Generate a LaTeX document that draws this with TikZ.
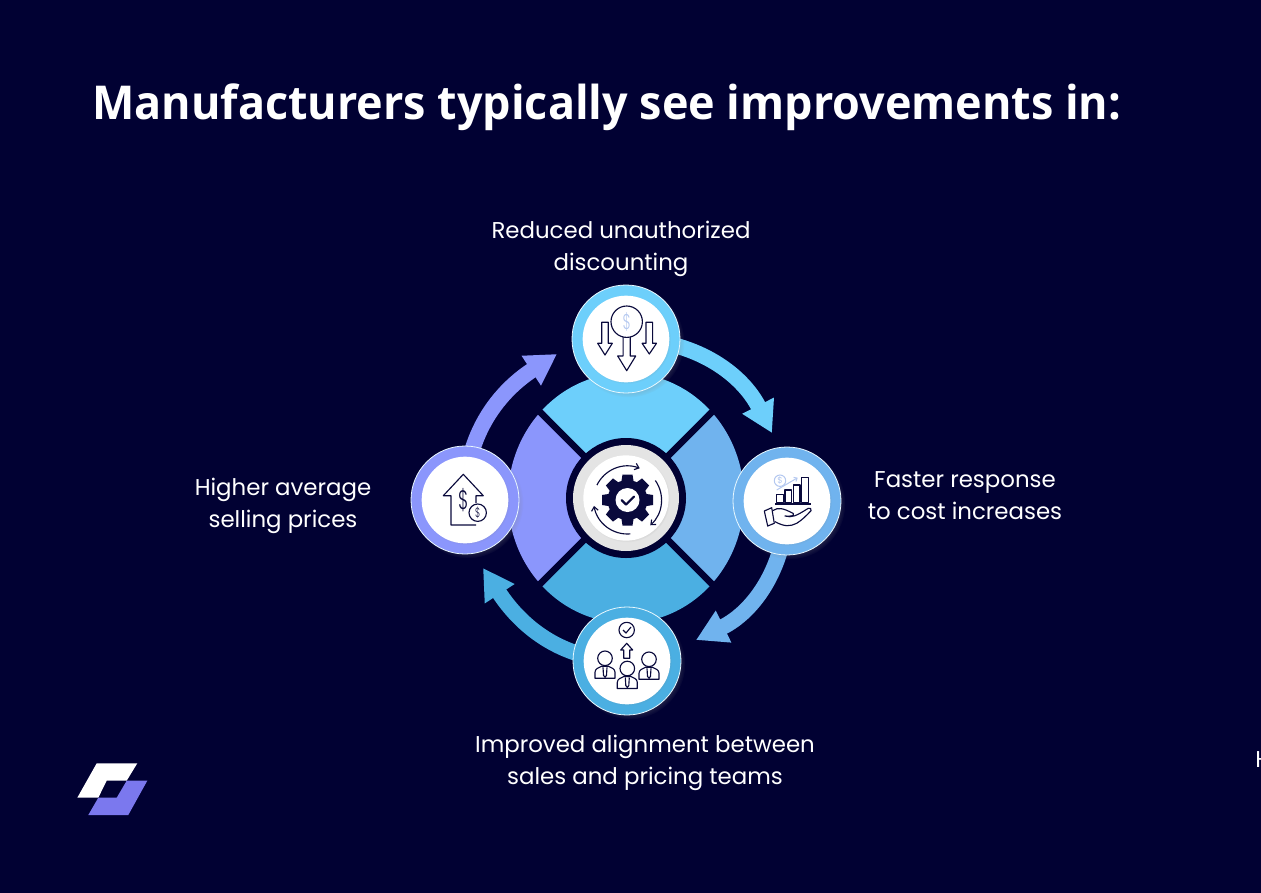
\documentclass[tikz,border=0pt]{standalone}
\usepackage{fontspec}
\setmainfont{Poppins}
\newfontfamily\titlefont{Open Sans}[FakeStretch=0.9625]
\newfontfamily\thinfont{Poppins}[UprightFont={* Light},FakeStretch=0.65]
\usepackage{xcolor}
\definecolor{mNavy}{HTML}{010133}
\definecolor{mInk}{HTML}{0A0A3C}
\definecolor{mSky}{HTML}{6DCFFB}
\definecolor{mCorn}{HTML}{70B3EE}
\definecolor{mOcean}{HTML}{4BAFE2}
\definecolor{mPeri}{HTML}{8B96FC}
\definecolor{mLogo}{HTML}{7B78EE}
\definecolor{mPale}{HTML}{B4C8F0}
\definecolor{mRing}{HTML}{E4E4E4}
\usetikzlibrary{arrows.meta,shadows}
\tikzset{
  satring/.style={circle, draw=white!85!mSky, line width=0.6pt, minimum size=81pt, inner sep=0pt,
    circular drop shadow={shadow xshift=2pt, shadow yshift=-2pt, shadow scale=1.03, opacity=.35}},
  satcore/.style={circle, fill=white, minimum size=65pt, inner sep=0pt,
    circular drop shadow={shadow xshift=.6pt, shadow yshift=-.6pt, shadow scale=1.02, opacity=.3}},
  flowarrow/.style={line width=11.8pt, -{Triangle[length=23pt,width=25pt]}},
  iconline/.style={draw=mInk, line width=.85pt, line join=round},
  paleline/.style={draw=mPale, line width=.75pt},
  itemlabel/.style={text=white, align=center, inner sep=0pt, font=\fontsize{17.15}{24}\selectfont},
  dollar/.style={inner sep=0pt}
}
\newcommand{\satnode}[4]{%
\node[satring, fill=#4] (#3) at (#1,#2) {};%
\node[satcore] (#3core) at (#1,#2) {};}
\newcommand{\dnarrow}[6]{%
\draw[iconline, fill=white] (#1-#3,#2) -- (#1-#3,#4) -- (#1-#5,#4) -- (#1,#6) -- (#1+#5,#4) -- (#1+#3,#4) -- (#1+#3,#2) -- cycle;}
\newcommand{\persona}[2]{%
\begin{scope}[shift={(#1,#2)}]
\draw[iconline, fill=white] (-10,20) -- (-10,14) .. controls (-10,10) and (-6,9.5) .. (-3.5,8) -- (3.5,8) .. controls (6,9.5) and (10,10) .. (10,14) -- (10,20) -- cycle;
\draw[iconline] (-2,9) -- (-1.5,17) -- (0,19) -- (1.5,17) -- (2,9);
\draw[iconline, fill=white] (0,0) circle (7.3);
\end{scope}}
\begin{document}
\begin{tikzpicture}[x=.75pt,y=-.75pt]
\useasboundingbox (0,0) rectangle (1261,893);
\fill[mNavy] (0,0) rectangle (1261,893);

\node[anchor=west, inner sep=0pt, text=white, font=\titlefont\bfseries\fontsize{35}{42}\selectfont] (title) at (92,107) {Manufacturers typically see improvements in:};

\coordinate (hub) at (626,498);
\fill[mSky] (hub) -- +(-135:118 and 125) arc (-135:-45:118 and 125) -- cycle;
\fill[mCorn] (hub) -- +(-45:118 and 125) arc (-45:45:118 and 125) -- cycle;
\fill[mOcean] (hub) -- +(45:118 and 125) arc (45:135:118 and 125) -- cycle;
\fill[mPeri] (hub) -- +(135:118 and 125) arc (135:225:118 and 125) -- cycle;
\draw[mNavy, line width=5pt] (hub) +(-135:130) -- +(45:130);
\draw[mNavy, line width=5pt] (hub) +(-45:130) -- +(135:130);

\coordinate (tipA) at (772,433);
\coordinate (tipB) at (696,640);
\coordinate (tipC) at (483,568);
\coordinate (tipD) at (557,354);
\coordinate (nTopc) at (626,339);
\coordinate (nRightc) at (787,501);
\coordinate (nBottomc) at (627,661);
\coordinate (nLeftc) at (465,500);
\draw[flowarrow, mSky] (nTopc) to[out=0, in=117] (tipA);
\draw[flowarrow, mCorn] (nRightc) to[out=-90, in=26] (tipB);
\draw[flowarrow, mOcean] (nBottomc) to[out=180, in=-57] (tipC);
\draw[flowarrow, mPeri] (nLeftc) to[out=90, in=213] (tipD);

\fill[mNavy] (hub) circle (60);
\node[circle, fill=mRing, minimum size=79.5pt, inner sep=0pt] (hubring) at (hub) {};
\node[satcore, minimum size=64pt] (hubcore) at (hub) {};
\coordinate (gear) at (627.5,500);
\foreach \a in {0,45,...,315}
  \fill[mInk, rotate around={\a:(gear)}] (622.5,474.5) -- (632.5,474.5) -- (634,484) -- (621,484) -- cycle;
\fill[mInk] (gear) circle (20);
\fill[white] (gear) circle (12);
\draw[mInk, line width=1.6pt, line cap=round, line join=round] (621.5,500) -- (626,504.5) -- (634,496.5);
\draw[iconline, -{Straight Barb[length=3pt,width=5pt]}] (gear) +(-154:34) arc (-154:-69:34);
\draw[iconline, -{Straight Barb[length=3pt,width=5pt]}] (gear) +(-35:34) arc (-35:48:34);
\draw[iconline, -{Straight Barb[length=3pt,width=5pt]}] (gear) +(85:34) arc (85:170:34);

\satnode{626}{339}{nTop}{mSky}
\satnode{787}{501}{nRight}{mCorn}
\satnode{627}{661}{nBottom}{mOcean}
\satnode{465}{500}{nLeft}{mPeri}

\dnarrow{605}{322.3}{3.3}{343.3}{7.3}{355}
\dnarrow{649.3}{322.3}{3.3}{343.3}{7.2}{354}
\dnarrow{626.7}{335}{3.6}{356}{9}{370.7}
\draw[iconline, fill=white] (626.7,321.7) circle (15.7);
\node[dollar, text=mPale, font=\thinfont\fontsize{16}{16}\selectfont] (dollarTop) at (626.7,321.7) {\$};

\draw[paleline] (780,480.7) circle (5.7);
\node[dollar, text=mPale, font=\fontsize{6.5}{7}\selectfont] (dollarRight) at (780,480.7) {\$};
\draw[paleline, -{Straight Barb[length=2pt,width=3.5pt]}] (776.7,490) -- (797.7,477.7);
\draw[iconline] (776.7,502.7) rectangle (783.3,494.3);
\draw[iconline] (785,502.7) rectangle (791.7,490);
\draw[iconline] (793.3,502.7) rectangle (800,485);
\draw[iconline] (801.7,502.7) rectangle (808.3,477.3);
\fill[mInk] (775,502.7) rectangle (810.7,504.6);
\draw[iconline] (764.3,511) -- (771.7,507.7) -- (774.3,523.3) -- (767.7,526) -- cycle;
\draw[iconline] (772.7,510.7) .. controls (778,507) and (783,508) .. (793.3,513.5) .. controls (795,516) and (790,516.5) .. (785,516) .. controls (792,518) and (796,516) .. (808.3,508.3) .. controls (810,507.5) and (812,509) .. (811,510.7) .. controls (806,516) and (802,520) .. (796.7,523.3) .. controls (790,526.5) and (785,527) .. (775,521.7);

\draw[iconline] (626.7,630) circle (7.7);
\draw[iconline] (623,630) -- (626,633) -- (631,627);
\draw[iconline] (626.7,643.3) -- (632.7,650) -- (629.7,650) -- (629.7,658.3) -- (623.7,658.3) -- (623.7,650) -- (620.7,650) -- cycle;
\persona{605}{658.3}
\persona{649}{659.3}
\persona{627.3}{668.5}

\draw[iconline] (476,503) -- (476,495.7) -- (483.3,495.7) -- (463.3,474.3) -- (443.3,495.7) -- (451,495.7) -- (451,525) -- (476,525);
\node[dollar, text=mInk, font=\thinfont\fontsize{20}{20}\selectfont] (dollarHouse) at (463.3,500) {\$};
\draw[iconline, fill=white] (477.7,512.7) circle (8.7);
\node[dollar, text=mInk, font=\thinfont\fontsize{10}{10}\selectfont] (dollarCoin) at (477.7,512.7) {\$};

\node[itemlabel] (labelTop) at (621,249) {Reduced unauthorized\\discounting};
\node[itemlabel] (labelRight) at (965,496) {Faster response\\to cost increases};
\node[itemlabel] (labelBottom) at (645,763) {Improved alignment between\\sales and pricing teams};
\node[itemlabel] (labelLeft) at (283,506) {Higher average\\selling prices};
\node[itemlabel, anchor=west] (labelCut) at (1255,760) {H};

\fill[white] (77.3,797.7) -- (96.7,763.3) -- (137.3,763.3) -- (126.7,780.7) -- (106.7,780.7) -- (98.3,797.7) -- cycle;
\fill[mLogo] (147.3,780.7) -- (128.3,815) -- (88.3,815) -- (98.3,797.7) -- (116.7,797.7) -- (126.7,780.7) -- cycle;
\end{tikzpicture}
\end{document}
